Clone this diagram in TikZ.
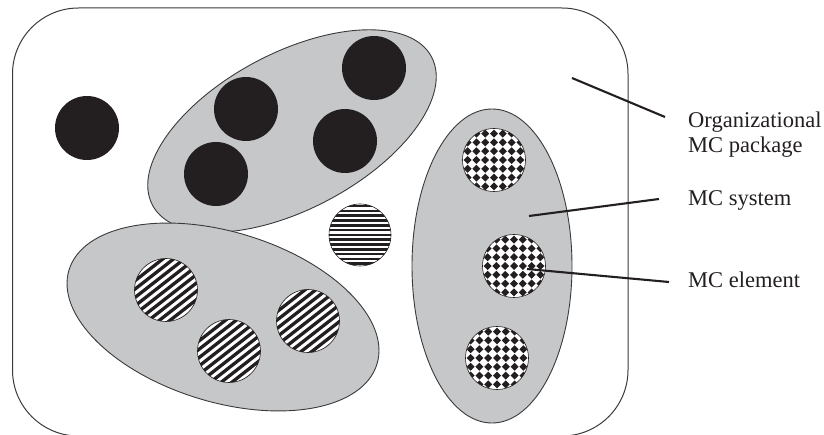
\documentclass[tikz,border=0pt]{standalone}
\usepackage{fontspec}
\setmainfont{Liberation Serif}
\usetikzlibrary{shapes.geometric}
\definecolor{sysgray}{HTML}{C6C7C9}
\definecolor{ink}{HTML}{231F20}
\definecolor{edge}{HTML}{3A3A3A}
\tikzset{
  outline/.style={draw=edge, line width=1pt},
  system/.style={ellipse, draw=edge, line width=0.9pt, fill=sysgray, inner sep=0pt},
  elem/.style={circle, inner sep=0pt, minimum size=63pt},
  blackdot/.style={elem, fill=ink, minimum size=64pt},
  hstripes/.style={elem, fill=white, draw=ink, line width=0.6pt,
    path picture={
      \foreach \i in {-7,...,7}
        \fill[ink] ([shift={(-40pt,\i*4.8pt-1.3pt)}]path picture bounding box.center)
          rectangle ([shift={(40pt,\i*4.8pt+1.3pt)}]path picture bounding box.center);
      }},
  dstripes/.style={elem, fill=white, draw=ink, line width=0.6pt,
    path picture={
      \foreach \i in {-7,...,7}{
        \pgfmathsetmacro{\sx}{-\i*6.6*sin(38)-45*cos(38)}
        \pgfmathsetmacro{\sy}{\i*6.6*cos(38)-45*sin(38)}
        \pgfmathsetmacro{\ex}{-\i*6.6*sin(38)+45*cos(38)}
        \pgfmathsetmacro{\ey}{\i*6.6*cos(38)+45*sin(38)}
        \draw[ink, line width=3.3pt]
          ([shift={(\sx pt,\sy pt)}]path picture bounding box.center) --
          ([shift={(\ex pt,\ey pt)}]path picture bounding box.center);
      }}},
  diamonds/.style={elem, fill=white, draw=ink, line width=0.6pt,
    path picture={
      \foreach \i in {-4,...,4}
        \foreach \j in {-4,...,4}
          \fill[ink] ([shift={(\i*8.8pt+4pt,\j*8.8pt)}]path picture bounding box.center)
            -- ([shift={(\i*8.8pt,\j*8.8pt+4pt)}]path picture bounding box.center)
            -- ([shift={(\i*8.8pt-4pt,\j*8.8pt)}]path picture bounding box.center)
            -- ([shift={(\i*8.8pt,\j*8.8pt-4pt)}]path picture bounding box.center) -- cycle;
      }},
  leader/.style={draw=ink, line width=2.1pt},
  label/.style={inner sep=0pt, font=\fontsize{22.5}{25}\selectfont, text=ink}
}
\begin{document}
\begin{tikzpicture}[x=1pt,y=-1pt]
\useasboundingbox (0,0) rectangle (824,435);
\begin{scope}
  \clip (0,0) rectangle (824,435);
  \draw[outline, rounded corners=66pt] (12.5,8) rectangle (628,436);
\end{scope}

% MC systems
\node[system, minimum width=316pt, minimum height=156pt, rotate=28] (s1) at (292,131) {};
\node[system, minimum width=322pt, minimum height=170pt, rotate=-17] (s2) at (223,317) {};
\node[system, minimum width=160pt, minimum height=314pt] (s3) at (492,266) {};

% MC elements
\node[blackdot] (b0) at (87,128) {};
\node[blackdot] (b1) at (374,68) {};
\node[blackdot] (b2) at (246,109) {};
\node[blackdot] (b3) at (345,141) {};
\node[blackdot] (b4) at (216,174) {};

\node[hstripes, minimum size=62pt] (h1) at (360,235) {};

\node[dstripes] (d1) at (166,290) {};
\node[dstripes] (d2) at (229,351) {};
\node[dstripes] (d3) at (308,321) {};

\node[diamonds] (c1) at (494,160) {};
\node[diamonds] (c2) at (514,266) {};
\node[diamonds] (c3) at (497,358) {};

% labels
\node[label, anchor=north west, align=left] (lpkg) at (688,111.5) {Organizational\\MC package};
\node[label, anchor=base west] (lsys) at (688,206) {MC system};
\node[label, anchor=base west] (lel) at (688,288) {MC element};

% leader lines
\coordinate (p1) at (572,78);
\coordinate (p1e) at (665,117);
\coordinate (p2) at (529,216);
\coordinate (p2e) at (659,199);
\coordinate (p3) at (527,269);
\coordinate (p3e) at (669,282);
\draw[leader] (p1) -- (p1e);
\draw[leader] (p2) -- (p2e);
\draw[leader] (p3) -- (p3e);
\end{tikzpicture}
\end{document}
